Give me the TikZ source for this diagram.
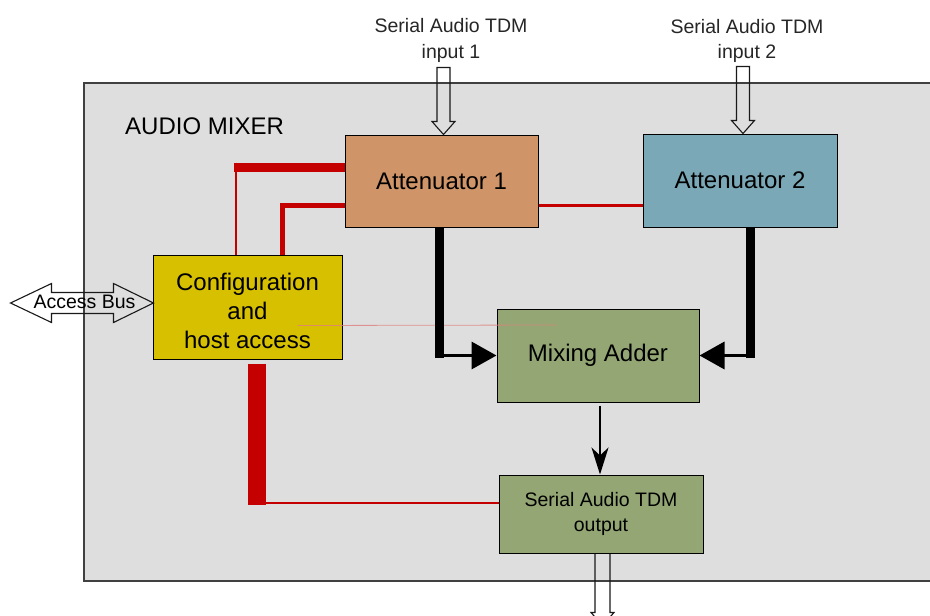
\documentclass[tikz,border=0pt]{standalone}
\usepackage{fontspec}
\setmainfont{Liberation Sans}
\usetikzlibrary{arrows.meta,calc}
\definecolor{bgc}{HTML}{DEDEDE}
\definecolor{att1c}{HTML}{CF9467}
\definecolor{att2c}{HTML}{7AA8B6}
\definecolor{cfgc}{HTML}{D6C000}
\definecolor{mixc}{HTML}{94A673}
\definecolor{cred}{HTML}{C40000}
\definecolor{faintred}{HTML}{E08080}
\begin{document}
\begin{tikzpicture}[x=1pt,y=-1pt,
  blk/.style={draw=black, line width=1pt, inner sep=0pt, text=black},
  bigfont/.style={font=\fontsize{24}{29}\selectfont},
  smallfont/.style={font=\fontsize{19.5}{25.5}\selectfont},
  lbl/.style={smallfont, align=center, text=black!85, inner sep=0pt},
  hollow/.style={draw=black!90, line width=1.1pt, line join=miter},
  redline/.style={draw=cred, line join=miter},
  blackbus/.style={draw=black, line width=9pt},
  blackthin/.style={draw=black, line width=3.5pt, -{Triangle[length=25pt,width=27pt]}},
  faint/.style={draw=faintred, line width=0.8pt, opacity=0.8}
]
\useasboundingbox (0,0) rectangle (930,616);
\fill[white] (0,0) rectangle (930,616);
\clip (0,0) rectangle (930,616);

% enclosing block
\draw[line width=2pt, draw=black!75, fill=bgc] (84,83) rectangle (980,581);
\node[anchor=west, bigfont, inner sep=0pt] (title) at (125,126) {AUDIO MIXER};

% blocks
\node[blk, fill=att1c, minimum width=193pt, minimum height=92pt, bigfont] (att1) at (441.5,181) {Attenuator 1};
\node[blk, fill=att2c, minimum width=194pt, minimum height=93pt, bigfont] (att2) at (740,180.5) {Attenuator 2};
\node[blk, fill=cfgc, minimum width=189pt, minimum height=104pt] (cfg) at (247.5,307) {};
\node[bigfont, align=center, inner sep=0pt] (cfgtxt) at ($(cfg.center)+(0,4)$) {Configuration\\and\\host access};
\node[blk, fill=mixc, minimum width=202pt, minimum height=93pt, bigfont] (mix) at (598,355.5) {Mixing Adder};
\node[blk, fill=mixc, minimum width=204pt, minimum height=78pt, smallfont, align=center] (out) at (601,514) {Serial Audio TDM\\output};

% red control lines
\coordinate (r1) at ($(att1.north west)+(0,32.5)$);
\coordinate (k1) at ($(cfg.north west)+(83,0)$);
\draw[redline, line width=9pt] (r1) -- ($(r1 -| k1)+(-1.5,0)$);
\draw[redline, line width=2pt] ($(r1 -| k1)+(0,-4.5)$) -- (k1);

\coordinate (r2) at ($(att1.north west)+(0,71)$);
\coordinate (k2) at ($(cfg.north west)+(130,0)$);
\draw[redline, line width=4.5pt] (r2) -- (r2 -| k2) -- (k2);
\draw[redline, line width=3.5pt] (r2 -| att1.east) -- (r2 -| att2.west);

\coordinate (k3) at ($(cfg.south west)+(104,4)$);
\coordinate (r3) at ($(out.west)+(0,-11)$);
\draw[redline, line width=18pt] (k3) -- ($(k3 |- r3)+(0,1.5)$);
\draw[redline, line width=1.3pt] (k3 |- r3) -- (r3);

% faint line
\draw[faint] ($(cfg.south west)+(145,-34)$) -- ($(mix.west)+(60,-30.5)$);

% data paths into mixer
\coordinate (a1) at ($(att1.south)+(-2.5,0)$);
\draw[blackbus] (a1) -- ($(a1 |- mix.west)+(0,2)$);
\draw[blackthin] ($(a1 |- mix.west)+(-4.5,0)$) -- (mix.west);
\coordinate (a2) at ($(att2.south)+(10,0)$);
\draw[blackbus] (a2) -- ($(a2 |- mix.west)+(0,2)$);
\draw[blackthin] ($(a2 |- mix.east)+(4.5,0)$) -- (mix.east);

% mixer to output
\draw[draw=black, line width=2pt, -{Stealth[length=27pt,width=17pt,inset=8pt]}] ($(mix.south)+(2,3)$) -- ($(out.north)+(-1,0)$);

% hollow input arrows
\coordinate (in1) at ($(att1.north)+(2,0)$);
\draw[hollow] (in1) -- ++(-11.5,-13) -- ++(5,0) -- ++(0,-54) -- ++(13,0) -- ++(0,54) -- ++(5,0) -- cycle;
\coordinate (in2) at ($(att2.north)+(3,0)$);
\draw[hollow] (in2) -- ++(-11.5,-13) -- ++(5,0) -- ++(0,-54) -- ++(13,0) -- ++(0,54) -- ++(5,0) -- cycle;

% hollow output arrow
\coordinate (o1) at ($(out.south)+(1.5,0)$);
\draw[hollow] ($(o1)+(-7.5,0)$) -- ++(0,59) -- ++(-4,0) -- ++(11.5,13) -- ++(11.5,-13) -- ++(-4,0) -- ++(0,-59);

% access bus double arrow
\coordinate (bR) at ($(cfg.west)+(1,-4)$);
\draw[hollow] (bR) -- ++(-40,-19.5) -- ++(0,9) -- ++(-62,0) -- ++(0,-9) -- ++(-41,19.5) -- ++(41,19.5) -- ++(0,-9) -- ++(62,0) -- ++(0,9) -- cycle;
\node[smallfont, inner sep=0pt] (buslbl) at ($(bR)+(-69,-1)$) {Access Bus};

% labels
\node[lbl] (lab1) at (451,40.5) {Serial Audio TDM\\input 1};
\node[lbl] (lab2) at (747,41) {Serial Audio TDM\\input 2};
\end{tikzpicture}
\end{document}
